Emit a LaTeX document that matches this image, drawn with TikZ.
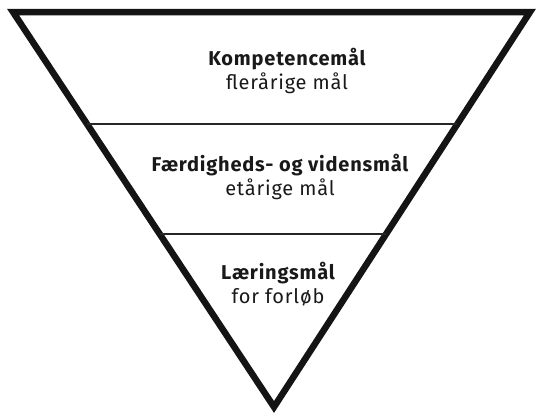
\documentclass[tikz,border=0pt]{standalone}
\usepackage{fontspec}
\setmainfont{Fira Sans}[LetterSpace=4]
\usetikzlibrary{calc}
\begin{document}
\begin{tikzpicture}[x=1pt, y=-1pt,
        titel/.style={font=\fontsize{20}{23}\selectfont\bfseries, text=black!90, anchor=base},
        undertitel/.style={font=\fontsize{20}{23}\selectfont\light, text=black!90, anchor=base}]
    \providecommand{\light}{\fontseries{l}\selectfont}
    \useasboundingbox (0,0) rectangle (537,415);
    % trekantens hjoerner
    \coordinate (venstre) at (13,12);
    \coordinate (hoejre) at (530,12);
    \coordinate (spids) at (274,407);
    \draw[line width=6.5pt, line join=miter, black!92] (venstre) -- (hoejre) -- (spids) -- cycle;
    % skillelinjer
    \coordinate (v1) at ($(venstre)!0.2835!(spids)$);
    \coordinate (h1) at ($(hoejre)!0.2835!(spids)$);
    \coordinate (v2) at ($(venstre)!0.562!(spids)$);
    \coordinate (h2) at ($(hoejre)!0.562!(spids)$);
    \draw[line width=2.8pt, black!85] (v1) -- (h1);
    \draw[line width=2.8pt, black!85] (v2) -- (h2);
    % tekster
    \node[titel] (kompetence) at (287,65) {Kompetencemål};
    \node[undertitel] (kompetenceaar) at (287,89) {flerårige mål};
    \node[titel] (faerdighed) at (280,171) {Færdigheds- og vidensmål};
    \node[undertitel] (faerdighedaar) at (280,195) {etårige mål};
    \node[titel] (laering) at (278,279) {Læringsmål};
    \node[undertitel] (laeringforloeb) at (278,303) {for forløb};
\end{tikzpicture}
\end{document}
